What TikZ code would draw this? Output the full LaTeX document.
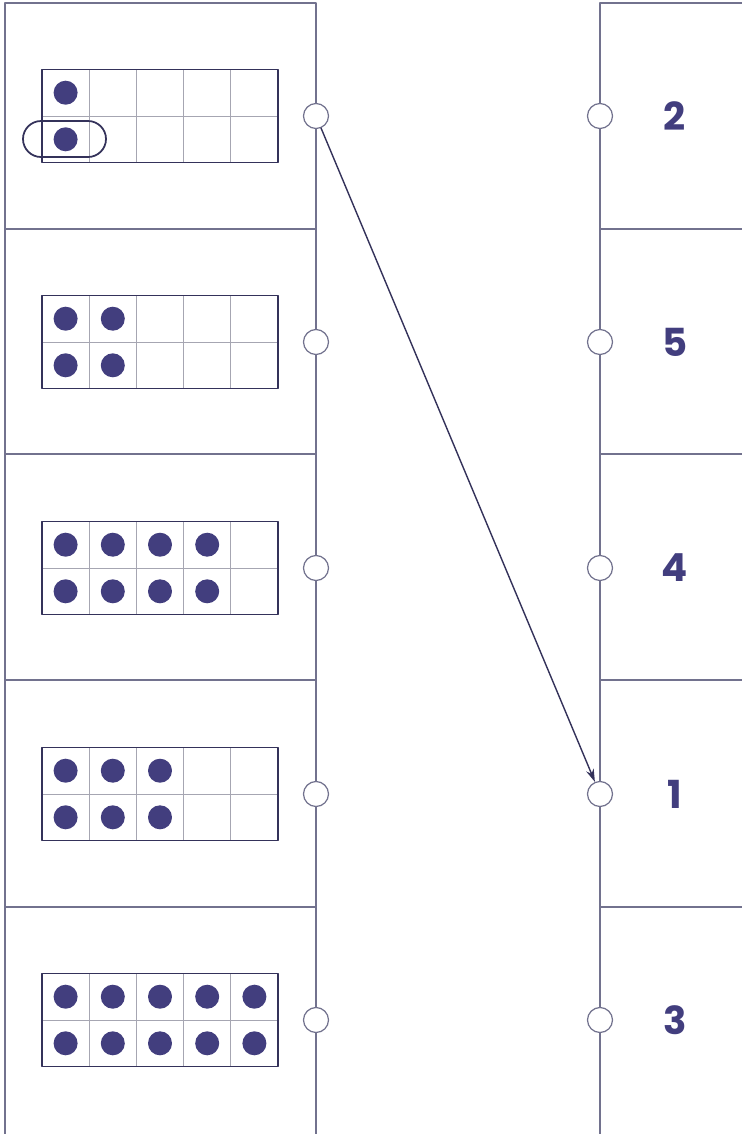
\documentclass[tikz,border=0pt]{standalone}
\usepackage{fontspec}
\setsansfont{Poppins}
\usetikzlibrary{arrows.meta}
\definecolor{ink}{HTML}{423E7E}
\definecolor{rulegray}{HTML}{72728E}
\definecolor{cellgray}{HTML}{A6A6B2}
\definecolor{arrowink}{HTML}{34325A}
\begin{document}
\begin{tikzpicture}[x=0.02cm,y=-0.02cm,line cap=round,line join=round,
  pin/.style={circle,draw=rulegray,fill=white,line width=0.7pt,minimum size=0.5cm,inner sep=0pt},
  num/.style={font=\sffamily\bfseries\fontsize{22}{22}\selectfont,text=ink},
  colrule/.style={draw=rulegray,line width=0.8pt}]
  \useasboundingbox (0,0) rectangle (742,1134);
  \draw[colrule] (5,1134) -- (5,3) -- (316,3) -- (316,1134);
  \draw[colrule] (742,3) -- (600,3) -- (600,1134);
  \foreach \y in {229,454,680,907} {
    \draw[colrule] (5,\y) -- (316,\y);
    \draw[colrule] (600,\y) -- (742,\y);
  }
  \foreach \k/\n [count=\i] in {1/2,2/5,4/4,3/1,5/3} {
    \pgfmathsetmacro\cy{116+226*(\i-1)}
    \foreach \j in {1,...,4}
      \draw[cellgray,line width=0.5pt] ({42+47.2*\j},\cy-46.5) -- ({42+47.2*\j},\cy+46.5);
    \draw[cellgray,line width=0.5pt] (42,\cy) -- (278,\cy);
    \draw[arrowink,line width=1.1pt] (42,\cy-46.5) rectangle (278,\cy+46.5);
    \foreach \j in {1,...,\k} {
      \fill[ink] ({65.6+47.2*(\j-1)},\cy-23.3) circle[radius=0.24cm];
      \fill[ink] ({65.6+47.2*(\j-1)},\cy+23.3) circle[radius=0.24cm];
    }
    \node[pin] (l\i) at (316,\cy) {};
    \node[pin] (r\i) at (600,\cy) {};
    \node[num] (n\i) at (675,\cy) {\n};
  }
  \draw[arrowink,line width=1pt,rounded corners=0.36cm] (23,121) rectangle (106,157);
  \draw[arrowink,line width=0.8pt,-{Stealth[length=0.26cm,width=0.16cm]}] (l1) -- (r4);
\end{tikzpicture}
\end{document}
